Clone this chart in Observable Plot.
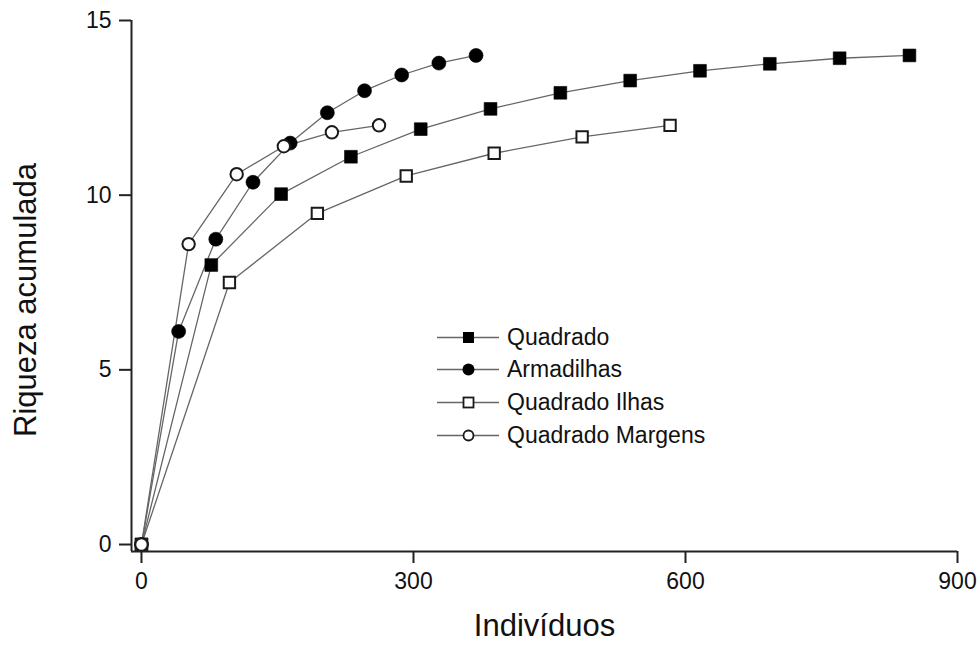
<!DOCTYPE html>
<html><head><meta charset="utf-8">
<script src="https://cdn.jsdelivr.net/npm/d3@7"></script>
<script src="https://cdn.jsdelivr.net/npm/@observablehq/plot@0.6"></script>
<style>
body{margin:0;background:#fff}
#wrap{position:relative;width:980px;height:646px;font-family:"Liberation Sans",Arial,sans-serif;color:#111}
.leg{position:absolute;left:437px;display:flex;align-items:center;height:30px;font-size:23px;white-space:nowrap}
.leg svg{display:block;margin-right:8px}
</style></head><body><div id="wrap"></div>
<script>
// ---- data ----
const seriesNames = ["Quadrado", "Armadilhas", "Quadrado Ilhas", "Quadrado Margens"];
const quadradoX = [0, 77, 154, 231, 308, 385, 462, 539, 616, 693, 770, 847];
const quadradoY = [0, 8.0, 10.03, 11.1, 11.89, 12.47, 12.93, 13.28, 13.56, 13.76, 13.92, 14.0];
const armadilhasX = [0, 41, 82, 123, 164, 205, 246, 287, 328, 369];
const armadilhasY = [0, 6.1, 8.74, 10.37, 11.49, 12.36, 12.99, 13.44, 13.78, 14.0];
const ilhasX = [0, 97, 194, 292, 389, 486, 583];
const ilhasY = [0, 7.5, 9.48, 10.55, 11.2, 11.67, 12.0];
const margensX = [0, 52, 105, 157, 210, 262];
const margensY = [0, 8.6, 10.6, 11.4, 11.8, 12.0];
const xTicks = [0, 300, 600, 900];
const yTicks = [0, 5, 10, 15];
const xTitle = "Indivíduos";
const yTitle = "Riqueza acumulada";

// ---- build table ----
const seriesData = [[quadradoX, quadradoY], [armadilhasX, armadilhasY], [ilhasX, ilhasY], [margensX, margensY]];
const rows = [];
seriesData.forEach(([xs, ys], i) => xs.forEach((x, j) => rows.push({series: seriesNames[i], x, y: ys[j]})));
const of = (name) => rows.filter(d => d.series === name);

const xDomain = [-11, 900];
const yDomain = [-0.2, 15];
const font = '"Liberation Sans", Arial, sans-serif';

const styles = {
  "Quadrado": {symbol: "square", r: 7.2, fill: "#000", stroke: "#000", strokeWidth: 0.6},
  "Armadilhas": {symbol: "circle", r: 7, fill: "#000", stroke: "#000", strokeWidth: 0.6},
  "Quadrado Ilhas": {symbol: "square", r: 6.4, fill: "#fff", stroke: "#1a1a1a", strokeWidth: 2},
  "Quadrado Margens": {symbol: "circle", r: 6.2, fill: "#fff", stroke: "#1a1a1a", strokeWidth: 2}
};

const plot = Plot.plot({
  width: 980, height: 646,
  marginLeft: 131, marginRight: 23, marginTop: 20, marginBottom: 95,
  style: {fontFamily: font, fontSize: "23px", color: "#111", background: "#fff", overflow: "visible"},
  x: {domain: xDomain},
  y: {domain: yDomain},
  marks: [
    Plot.line(rows, {x: "x", y: "y", z: "series", stroke: "#666", strokeWidth: 1.3}),
    ...seriesNames.map(name => Plot.dot(of(name), {x: "x", y: "y", ...styles[name]})),
    Plot.ruleX([xDomain[0]], {stroke: "#222", strokeWidth: 2}),
    Plot.ruleY([yDomain[0]], {stroke: "#222", strokeWidth: 2}),
    Plot.axisX({ticks: xTicks, tickSize: 12, tickPadding: 9, strokeWidth: 2, stroke: "#222", fontSize: 23, label: null}),
    Plot.axisY({ticks: yTicks, tickSize: 12, tickPadding: 8, strokeWidth: 2, stroke: "#222", fontSize: 23, label: null}),
    Plot.text([xTitle], {frameAnchor: "bottom", dy: 84, fontSize: 31, fill: "#111"}),
    Plot.text([yTitle], {frameAnchor: "left", textAnchor: "middle", lineAnchor: "middle", rotate: -90, dx: -105, dy: 14, fontSize: 31, fill: "#111"})
  ]
});
const wrap = document.getElementById("wrap");
wrap.appendChild(plot);

// ---- legend ----
const legendY = [337, 369, 402, 435];
const legendSym = {
  "Quadrado": '<rect x="26" y="10" width="11" height="11" fill="#000"/>',
  "Armadilhas": '<circle cx="31.5" cy="15.5" r="6" fill="#000"/>',
  "Quadrado Ilhas": '<rect x="26.5" y="10.5" width="10" height="10" fill="#fff" stroke="#1a1a1a" stroke-width="1.8"/>',
  "Quadrado Margens": '<circle cx="31.5" cy="15.5" r="5" fill="#fff" stroke="#1a1a1a" stroke-width="1.8"/>'
};
seriesNames.forEach((name, i) => {
  const div = document.createElement("div");
  div.className = "leg";
  div.style.top = (legendY[i] - 15) + "px";
  div.innerHTML = `<svg width="62" height="31"><line x1="0" x2="62" y1="15.5" y2="15.5" stroke="#666" stroke-width="1.3"/>${legendSym[name]}</svg><span>${name}</span>`;
  wrap.appendChild(div);
});
</script></body></html>
